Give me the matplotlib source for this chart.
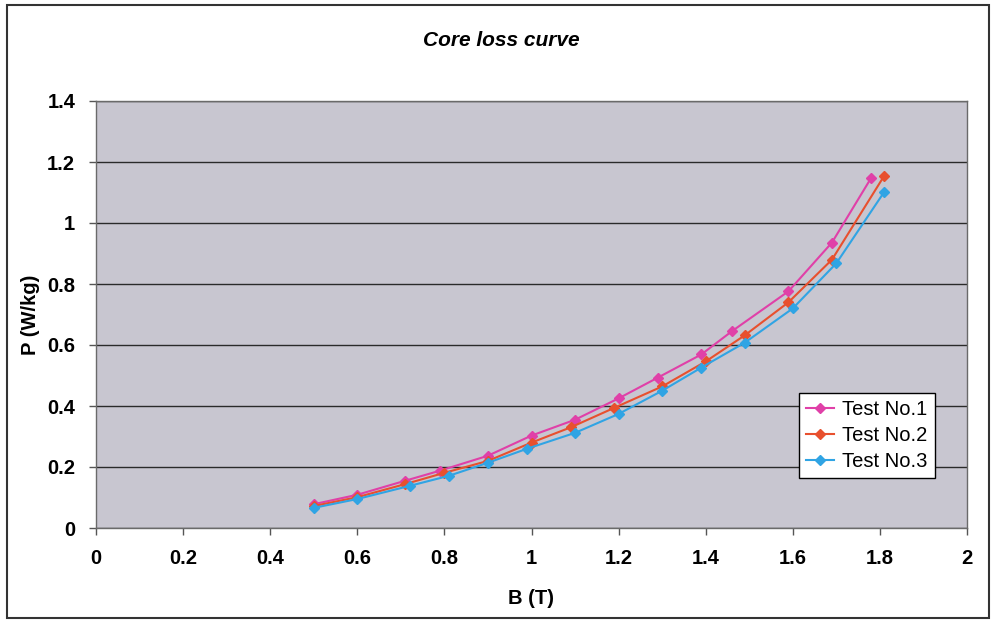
import matplotlib
matplotlib.use("Agg")
import matplotlib.pyplot as plt
from matplotlib.patches import Rectangle
from matplotlib import font_manager

# ---- data ----
B1 = [0.50, 0.60, 0.71, 0.79, 0.90, 1.00, 1.10, 1.20, 1.29, 1.39, 1.46, 1.59, 1.69, 1.78]
P1 = [0.078, 0.109, 0.155, 0.188, 0.237, 0.303, 0.355, 0.425, 0.493, 0.569, 0.645, 0.776, 0.936, 1.148]
B2 = [0.50, 0.60, 0.71, 0.80, 0.90, 1.00, 1.09, 1.19, 1.30, 1.40, 1.49, 1.59, 1.69, 1.81]
P2 = [0.072, 0.101, 0.144, 0.181, 0.220, 0.280, 0.330, 0.394, 0.464, 0.546, 0.632, 0.740, 0.880, 1.155]
B3 = [0.50, 0.60, 0.72, 0.81, 0.90, 0.99, 1.10, 1.20, 1.30, 1.39, 1.49, 1.60, 1.70, 1.81]
P3 = [0.066, 0.095, 0.138, 0.171, 0.214, 0.260, 0.312, 0.374, 0.450, 0.526, 0.608, 0.720, 0.868, 1.102]
labels = ["Test No.1", "Test No.2", "Test No.3"]
colors = ["#E040A8", "#E8502E", "#30A4E4"]
xticks = [0, 0.2, 0.4, 0.6, 0.8, 1, 1.2, 1.4, 1.6, 1.8, 2]
yticks = [0, 0.2, 0.4, 0.6, 0.8, 1, 1.2, 1.4]
title = "Core loss curve"
xlabel = "B (T)"
ylabel = "P (W/kg)"

names = {f.name for f in font_manager.fontManager.ttflist}
base = "Liberation Sans" if "Liberation Sans" in names else "DejaVu Sans"
plt.rcParams["font.family"] = [base, "DejaVu Sans"]

W, H = 994, 624
fig = plt.figure(figsize=(W / 100, H / 100), dpi=100)
fig.patch.set_facecolor("white")

L, R, T, Bt = 96, 967, 101, 528
ax = fig.add_axes([L / W, 1 - Bt / H, (R - L) / W, (Bt - T) / H])
ax.set_facecolor("#C8C6D0")

for xs, ys, lab, c in zip([B1, B2, B3], [P1, P2, P3], labels, colors):
    ax.plot(xs, ys, color=c, lw=1.5, marker="D", markersize=5.5, label=lab)

ax.set_xlim(0, 2)
ax.set_ylim(0, 1.4)
ax.set_xticks(xticks)
ax.set_yticks(yticks)
ax.set_xticklabels([f"{v:g}" for v in xticks], fontsize=14.5, fontweight="bold")
ax.set_yticklabels([f"{v:g}" for v in yticks], fontsize=14.5, fontweight="bold")
ax.tick_params(axis="both", direction="out", length=5, width=1, color="#555555", pad=10)
ax.yaxis.grid(True, color="#2a2a2a", lw=1)
ax.set_axisbelow(True)
for s in ax.spines.values():
    s.set_color("#6a6a6a")
    s.set_linewidth(1)

fig.text(501 / W, 1 - 40 / H, title, ha="center", va="center", fontsize=15,
         fontweight="bold", fontstyle="italic")
fig.text(531 / W, 1 - 598 / H, xlabel, ha="center", va="center", fontsize=14.5, fontweight="bold")
fig.text(30 / W, 1 - 315 / H, ylabel, ha="center", va="center", rotation=90, fontsize=14.5, fontweight="bold")

leg = ax.legend(loc="upper left", bbox_to_anchor=(799 / W, 1 - 393 / H), bbox_transform=fig.transFigure,
                fontsize=14.5, frameon=True, fancybox=False, borderaxespad=0, handlelength=1.4,
                handletextpad=0.4, labelspacing=0.35, borderpad=0.35)
leg.get_frame().set_edgecolor("black")
leg.get_frame().set_linewidth(1)
leg.get_frame().set_facecolor("white")
leg.get_frame().set_alpha(1)

fig.patches.append(Rectangle((7 / W, 1 - 618 / H), (989 - 7) / W, (618 - 5) / H,
                             transform=fig.transFigure, fill=False, edgecolor="#333333", lw=1.5))

fig.savefig("out.png", dpi=100)
